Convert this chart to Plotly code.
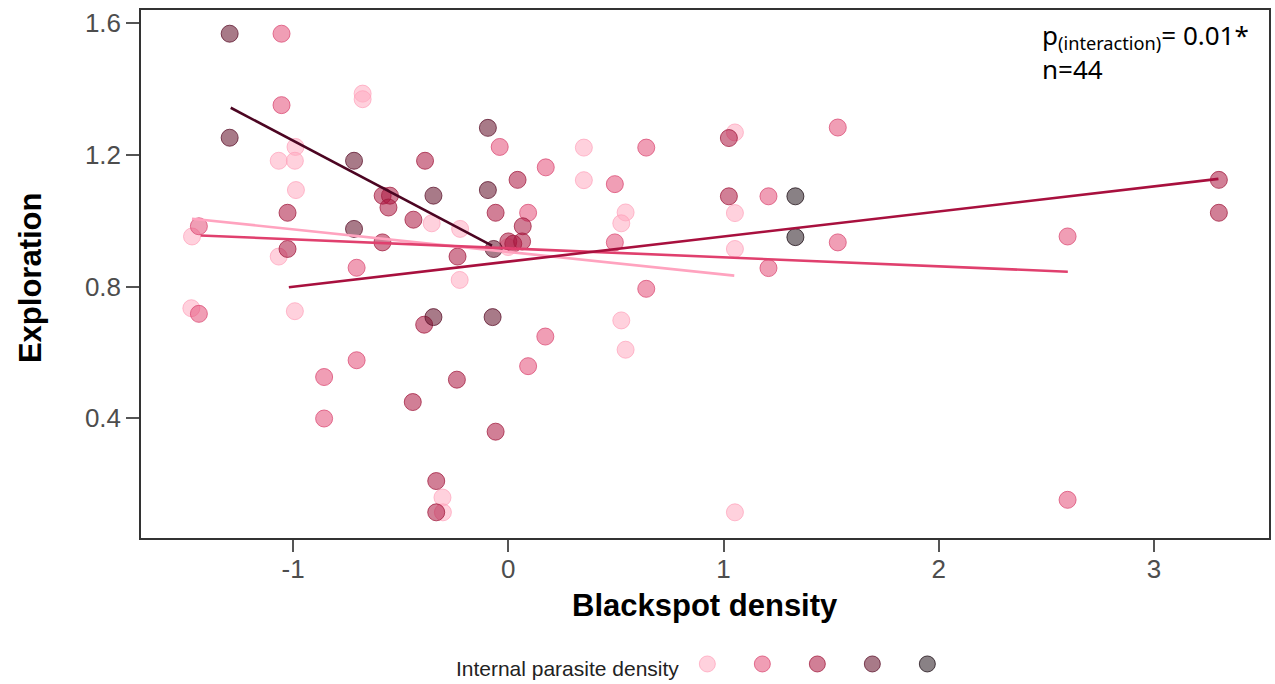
import plotly.graph_objects as go

# ---- data ----
levels = ["1", "2", "3", "4", "5"]

x_l1 = [-0.677, -0.677, -0.989, -1.067, -0.992, -0.987, -0.356, -0.224, -1.470, -1.067,
        -0.226, -1.473, -0.992, -0.306, -0.304, 0.351, 0.351, 0.545, 0.525, 1.053,
        1.053, 1.053, 0.525, 0.545, 1.053, -0.001]
y_l1 = [1.386, 1.369, 1.224, 1.182, 1.182, 1.093, 0.992, 0.975, 0.952, 0.891,
        0.820, 0.734, 0.725, 0.159, 0.114, 1.222, 1.123, 1.025, 0.992, 1.268,
        1.023, 0.914, 0.697, 0.608, 0.114, 0.920]

x_l2 = [-1.054, -1.054, -0.040, 0.174, 0.092, -1.438, -0.705, -1.438, 0.172, 0.092,
        -0.856, -0.705, -0.856, 0.641, 0.495, 0.495, 1.209, 1.531, 1.531, 1.209,
        0.641, 2.599, 2.599]
y_l2 = [1.568, 1.351, 1.224, 1.162, 1.024, 0.983, 0.857, 0.717, 0.648, 0.558,
        0.525, 0.576, 0.399, 1.222, 1.111, 0.934, 1.074, 1.283, 0.934, 0.856,
        0.793, 0.952, 0.152]

x_l3 = [-0.387, 0.043, -0.584, -0.550, -0.557, -0.059, -1.026, 0.067, -0.441, -1.026,
        -0.236, -0.585, 0.000, 0.023, 0.064, -0.391, -0.239, -0.444, -0.059, -0.335,
        -0.335, 1.025, 1.025, 3.302, 3.302]
y_l3 = [1.182, 1.124, 1.076, 1.076, 1.040, 1.024, 1.024, 0.983, 1.003, 0.914,
        0.891, 0.934, 0.937, 0.930, 0.937, 0.684, 0.517, 0.449, 0.359, 0.209,
        0.114, 1.251, 1.074, 1.124, 1.024]

x_l4 = [-1.295, -1.295, -0.095, -0.717, -0.095, -0.348, -0.717, -0.068, -0.348, -0.073]
y_l4 = [1.568, 1.252, 1.282, 1.182, 1.093, 1.076, 0.975, 0.914, 0.707, 0.707]

x_l5 = [1.334, 1.334]
y_l5 = [1.074, 0.950]

# fitted lines per level (end points)
fit_x_l1 = [-1.47, 1.05]
fit_y_l1 = [1.006, 0.833]
fit_x_l2 = [-1.43, 2.60]
fit_y_l2 = [0.955, 0.845]
fit_x_l3 = [-1.02, 3.30]
fit_y_l3 = [0.798, 1.127]
fit_x_l4 = [-1.29, -0.076]
fit_y_l4 = [1.343, 0.924]

x_ticks = [-1, 0, 1, 2, 3]
y_ticks = [0.4, 0.8, 1.2, 1.6]

# ---- styles ----
fill_cols = ["rgba(255,172,193,0.55)", "rgba(230,88,127,0.58)", "rgba(172,22,63,0.55)",
             "rgba(97,13,38,0.55)", "rgba(40,25,32,0.55)"]
edge_cols = ["rgba(255,160,185,0.7)", "rgba(220,80,120,0.8)", "rgba(160,25,60,0.75)",
             "rgba(90,15,40,0.75)", "rgba(35,20,28,0.8)"]
line_cols = ["#ffa3bf", "#e0406e", "#a8103e", "#4c0522"]

fig = go.Figure()

pts = [(x_l1, y_l1), (x_l2, y_l2), (x_l3, y_l3), (x_l4, y_l4), (x_l5, y_l5)]
for i, (xs, ys) in enumerate(pts):
    fig.add_trace(go.Scatter(
        x=xs, y=ys, mode="markers", name="",
        marker=dict(size=17, color=fill_cols[i], line=dict(color=edge_cols[i], width=1)),
        showlegend=True, legendrank=i + 1,
    ))

fits = [(fit_x_l1, fit_y_l1), (fit_x_l2, fit_y_l2), (fit_x_l3, fit_y_l3), (fit_x_l4, fit_y_l4)]
for i, (xs, ys) in enumerate(fits):
    fig.add_trace(go.Scatter(
        x=xs, y=ys, mode="lines", line=dict(color=line_cols[i], width=2.6),
        showlegend=False, hoverinfo="skip",
    ))

axis_font = dict(family="Liberation Sans, Arial, sans-serif", size=26, color="#4d4d4d")
title_font = dict(family="Liberation Sans, Arial, sans-serif", size=31, color="#000000")

fig.update_layout(
    width=1275, height=684,
    margin=dict(l=141, r=6, t=10, b=146, autoexpand=False),
    paper_bgcolor="white", plot_bgcolor="white",
    showlegend=True,
    legend=dict(
        orientation="h", x=0.503, xanchor="center", y=-0.245, yanchor="middle",
        title=dict(text="Internal parasite density",
                   font=dict(family="Liberation Sans, Arial, sans-serif", size=21, color="#222")),
        entrywidth=10, entrywidthmode="pixels",
        font=dict(size=14), bgcolor="rgba(0,0,0,0)",
    ),
    xaxis=dict(
        range=[-1.707, 3.535], tickvals=x_ticks, ticktext=[str(v) for v in x_ticks],
        showgrid=False, zeroline=False, showline=True, linecolor="#333", linewidth=1.5,
        mirror=True, ticks="outside", ticklen=12, tickwidth=1.5, tickcolor="#555",
        tickfont=axis_font, automargin=False, ticklabelstandoff=-5,
    ),
    yaxis=dict(
        range=[0.036, 1.640], tickvals=y_ticks, ticktext=["0.4", "0.8", "1.2", "1.6"],
        showgrid=False, zeroline=False, showline=True, linecolor="#333", linewidth=1.5,
        mirror=True, ticks="outside", ticklen=13, tickwidth=1.5, tickcolor="#555",
        tickfont=axis_font, automargin=False,
    ),
)

# axis titles
fig.add_annotation(
    xref="paper", yref="paper", x=0.50, y=-0.127, xanchor="center", yanchor="middle",
    showarrow=False, text="<b>Blackspot density</b>", font=title_font,
)
fig.add_annotation(
    xref="paper", yref="paper", x=-0.0985, y=0.494, xanchor="center", yanchor="middle",
    showarrow=False, text="<b>Exploration</b>", font=title_font, textangle=-90,
)

fig.add_annotation(
    xref="paper", yref="paper", x=0.797, y=0.99, xanchor="left", yanchor="top",
    align="left", showarrow=False,
    text="p<sub>(interaction)</sub>= 0.01*<br>n=44",
    font=dict(family="Noto Sans, Open Sans, sans-serif", size=26, color="#000"),
)

fig.write_html("out.html", config={"displayModeBar": False},
               post_script="document.body.style.margin='0';document.body.style.padding='0';")
